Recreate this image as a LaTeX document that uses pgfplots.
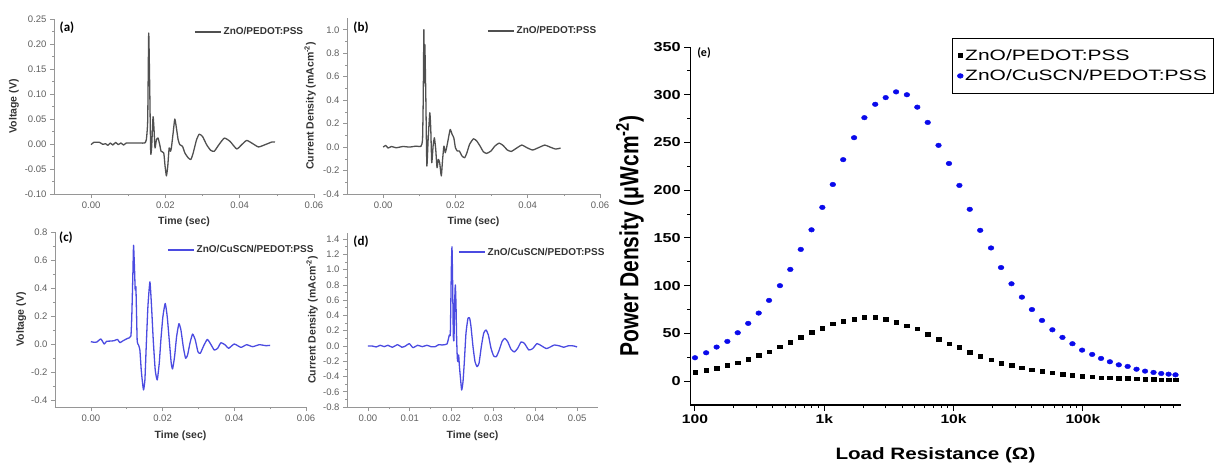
\documentclass[border=0pt]{standalone}
\usepackage{fontspec}
\setmainfont{Liberation Sans}
\newfontfamily\efont[FakeStretch=1.25]{Liberation Sans}
\newfontfamily\lfont[FakeStretch=1.4]{Liberation Sans}
\newfontfamily\tagfont{Carlito}
\usepackage{pgfplots}
\pgfplotsset{compat=1.18}

\definecolor{gline}{RGB}{80,80,80}
\definecolor{bline}{RGB}{75,75,225}
\definecolor{axgray}{RGB}{150,150,150}
\definecolor{tickgray}{RGB}{95,95,95}
\definecolor{ptblue}{RGB}{10,10,235}

\pgfplotsset{
  small/.style={
    scale only axis,
    anchor=south west,
    axis lines*=left,
    axis line style={axgray, line width=0.8pt},
    tick align=outside,
    major tick length=4pt,
    minor tick length=2pt,
    tick style={axgray, line width=0.6pt},
    minor x tick num=1,
    minor y tick num=1,
    scaled x ticks=false,
    scaled y ticks=false,
    tick label style={font=\fontsize{9.5}{10}\selectfont, text=tickgray},
    /pgf/number format/assume math mode=true,
    /pgf/number format/fixed,
    /pgf/number format/fixed zerofill,
    xticklabel style={/pgf/number format/precision=2},
    label style={font=\fontsize{10.5}{11}\selectfont\bfseries, text=black!80},
    xlabel={Time (sec)},
    legend style={draw=none, fill=none, inner sep=0pt, anchor=west,
      font=\fontsize{10}{11}\selectfont\bfseries, text=black!80},
    legend image code/.code={\draw[#1, line width=1.6pt] (0pt,0pt) -- (26pt,0pt);},
    clip=false,
  },
  trace/.style={line width=1.3pt, line join=round, smooth, tension=0.3},
}

\begin{document}
\begin{tikzpicture}
\useasboundingbox (0pt,0pt) rectangle (1215pt,-467pt);

% (a)
\begin{axis}[small,
  at={(54pt,-194pt)}, width=260pt, height=175pt,
  xmin=-0.01, xmax=0.06, ymin=-0.10, ymax=0.25,
  xtick={0,0.02,0.04,0.06},
  ytick={-0.1,-0.05,0,0.05,0.1,0.15,0.2,0.25},
  yticklabel style={/pgf/number format/precision=2},
  ylabel={Voltage (V)},
  xlabel style={at={(axis description cs:0.5,-0.16)}, anchor=center},
  ylabel style={at={(axis description cs:-0.154,0.5)}, anchor=center},
  legend style={at={(axis description cs:0.538,0.926)}},
]
\addplot[gline, trace] coordinates {
(0,-0.0013) (0.00072,0.0033) (0.00225,0.0033) (0.00315,-0.0007) (0.00387,0.0007)
(0.0045,-0.0026) (0.00514,0.002) (0.00586,-0.002) (0.00658,0.0033) (0.0073,-0.0013)
(0.008,0.002) (0.00874,-0.002) (0.00946,0.002) (0.0108,0.002) (0.01306,0.002)
(0.01441,0.002) (0.01486,0.0086) (0.01523,0.048) (0.0155,0.222) (0.01577,0.114)
(0.01604,-0.0178) (0.0163,-0.0046) (0.01667,0.0546) (0.01694,0.028) (0.0172,-0.008)
(0.01757,0.0086) (0.018,0.012) (0.01847,-0.0013) (0.01883,-0.0145) (0.01955,-0.0178)
(0.0199,-0.044) (0.02027,-0.0638) (0.02063,-0.044) (0.021,-0.008) (0.02135,-0.0145)
(0.0216,-0.008) (0.02207,0.0217) (0.02252,0.05) (0.02297,0.0316) (0.02342,0.0086)
(0.02387,-0.0013) (0.0246,-0.0046) (0.02523,-0.0178) (0.02613,-0.0276) (0.02685,-0.031)
(0.02748,-0.0178) (0.02838,0.0086) (0.0291,0.0197) (0.03,0.015) (0.03108,-0.0013)
(0.03216,-0.0125) (0.03315,-0.0145) (0.03441,-0.0013) (0.03586,0.0118) (0.03739,0.0053)
(0.03919,-0.0099) (0.04054,-0.0013) (0.04189,0.0072) (0.04351,0.0007) (0.04505,-0.0059)
(0.04685,-0.0013) (0.04865,0.004) (0.0495,0.004)
};
\addlegendentry{ZnO/PEDOT:PSS}
\end{axis}

% (b)
\begin{axis}[small,
  at={(347pt,-194pt)}, width=253pt, height=176pt,
  xmin=-0.01, xmax=0.06, ymin=-0.4, ymax=1.1,
  xtick={0,0.02,0.04,0.06},
  ytick={-0.4,-0.2,0,0.2,0.4,0.6,0.8,1.0},
  yticklabel style={/pgf/number format/precision=1},
  ylabel={Current Density (mAcm\textsuperscript{-2})},
  xlabel style={at={(axis description cs:0.5,-0.159)}, anchor=center},
  ylabel style={at={(axis description cs:-0.146,0.5)}, anchor=center},
  legend style={at={(axis description cs:0.553,0.926)}},
]
\addplot[gline, trace] coordinates {
(0,0) (0.00073,0.014) (0.00136,-0.0085) (0.0023,0.005) (0.0036,-0.006) (0.0055,0.005)
(0.0073,0) (0.0091,0.008) (0.01045,0.006) (0.0109,0.065) (0.01109,0.405) (0.01127,1.0)
(0.01136,0.547) (0.01154,0.873) (0.01182,0.405) (0.01209,-0.161) (0.01245,0.065)
(0.01291,0.292) (0.01318,0.15) (0.01345,-0.133) (0.01382,0.0085) (0.01418,0.079)
(0.01455,-0.02) (0.01491,-0.176) (0.01527,-0.105) (0.01564,-0.133) (0.01609,-0.246)
(0.01645,-0.105) (0.01682,0.0085) (0.01718,-0.048) (0.01755,-0.006) (0.018,0.065)
(0.01855,0.15) (0.01909,0.108) (0.01955,0.079) (0.02,-0.006) (0.02055,-0.034)
(0.02109,-0.034) (0.02182,-0.076) (0.02255,-0.091) (0.02318,-0.048) (0.02391,0.023)
(0.025,0.071) (0.02591,0.051) (0.02682,0.0085) (0.02773,-0.04) (0.02864,-0.054)
(0.02982,-0.034) (0.03091,0.0085) (0.03209,0.034) (0.03318,0.014) (0.03436,-0.025)
(0.03545,-0.037) (0.03682,-0.011) (0.03836,0.017) (0.03982,-0.006) (0.04136,-0.025)
(0.04291,-0.006) (0.04473,0.017) (0.04618,0) (0.04773,-0.017) (0.04909,-0.0085)
};
\addlegendentry{ZnO/PEDOT:PSS}
\end{axis}

% (c)
\begin{axis}[small,
  at={(55pt,-407pt)}, width=251pt, height=175pt,
  xmin=-0.01, xmax=0.06, ymin=-0.45, ymax=0.8,
  xtick={0,0.02,0.04,0.06},
  ytick={-0.4,-0.2,0,0.2,0.4,0.6,0.8},
  yticklabel style={/pgf/number format/precision=1},
  ylabel={Voltage (V)},
  xlabel style={at={(axis description cs:0.5,-0.163)}, anchor=center},
  ylabel style={at={(axis description cs:-0.135,0.5)}, anchor=center},
  legend style={at={(axis description cs:0.446,0.897)}},
]
\addplot[bline, trace] coordinates {
(0,0.017) (0.00093,0.012) (0.00167,0.014) (0.00279,0.036) (0.00372,0) (0.00437,0.019)
(0.00558,0.021) (0.00651,0.024) (0.00744,0.033) (0.00809,0.0095) (0.00902,0.024)
(0.01023,0.04) (0.01116,0.057) (0.01144,0.219) (0.01172,0.504) (0.01191,0.705)
(0.01219,0.527) (0.01237,0.385) (0.01256,0.409) (0.01274,0.219) (0.01293,0.017)
(0.0133,-0.007) (0.01367,-0.043) (0.01405,-0.185) (0.01442,-0.28) (0.0147,-0.328)
(0.01507,-0.257) (0.01544,-0.019) (0.01591,0.266) (0.01647,0.444) (0.01693,0.266)
(0.0174,0.029) (0.01795,-0.185) (0.01851,-0.257) (0.01907,-0.138) (0.01953,0.029)
(0.02009,0.195) (0.02074,0.29) (0.0213,0.195) (0.02186,0.029) (0.02242,-0.138)
(0.02279,-0.178) (0.02335,-0.09) (0.02391,0.052) (0.02456,0.145) (0.02512,0.1)
(0.02577,-0.019) (0.02642,-0.102) (0.02698,-0.078) (0.02763,0.005) (0.02837,0.071)
(0.02912,0.029) (0.02986,-0.055) (0.03051,-0.067) (0.03135,-0.019) (0.03247,0.033)
(0.0334,0) (0.03442,-0.043) (0.03535,-0.031) (0.03628,0.0095) (0.03749,-0.007)
(0.03842,-0.031) (0.04,0) (0.04186,-0.024) (0.04344,-0.005) (0.04512,-0.019)
(0.04698,-0.005) (0.04884,-0.012) (0.05,-0.0095)
};
\addlegendentry{ZnO/CuSCN/PEDOT:PSS}
\end{axis}

% (d)
\begin{axis}[small,
  at={(347pt,-407pt)}, width=251pt, height=174pt,
  xmin=-0.005, xmax=0.055, ymin=-0.8, ymax=1.48,
  xtick={0,0.01,0.02,0.03,0.04,0.05},
  ytick={-0.8,-0.6,-0.4,-0.2,0,0.2,0.4,0.6,0.8,1.0,1.2,1.4},
  yticklabel style={/pgf/number format/precision=1},
  ylabel={Current Density (mAcm\textsuperscript{-2})},
  xlabel style={at={(axis description cs:0.5,-0.163)}, anchor=center},
  ylabel style={at={(axis description cs:-0.139,0.5)}, anchor=center},
  legend style={at={(axis description cs:0.442,0.89)}},
]
\addplot[bline, trace] coordinates {
(0,0) (0.00096,0) (0.002,-0.013) (0.00295,0.009) (0.0039,-0.009) (0.00478,0.009)
(0.00582,-0.017) (0.0071,0.017) (0.00813,-0.017) (0.00901,0) (0.00989,0.031)
(0.01077,-0.022) (0.01188,0.009) (0.013,-0.009) (0.01411,0.009) (0.01507,-0.009)
(0.01611,-0.009) (0.01691,0.017) (0.0177,0.013) (0.0189,0.026) (0.01946,0.144)
(0.0197,0.166) (0.01994,1.0) (0.0201,1.30) (0.02026,0.8) (0.02041,0.144)
(0.02057,0.079) (0.02073,0.56) (0.02089,0.80) (0.02105,0.56) (0.02121,0.1)
(0.02137,-0.162) (0.02153,-0.206) (0.02169,-0.118) (0.02185,-0.25) (0.02209,-0.40)
(0.02241,-0.577) (0.02273,-0.468) (0.02305,-0.206) (0.02344,0.166) (0.02392,0.363)
(0.02432,0.363) (0.02464,0.254) (0.02512,-0.009) (0.0256,-0.206) (0.02608,-0.271)
(0.02656,-0.227) (0.02711,-0.009) (0.02767,0.166) (0.02823,0.21) (0.02879,0.144)
(0.02943,-0.031) (0.03006,-0.131) (0.0307,-0.14) (0.03134,-0.061) (0.03206,0.057)
(0.0327,0.1) (0.03341,0.057) (0.03421,-0.044) (0.035,-0.079) (0.0358,-0.031)
(0.0366,0.052) (0.0374,0.035) (0.03844,-0.052) (0.03939,-0.035) (0.04043,0.031)
(0.04155,0) (0.04266,-0.035) (0.04362,-0.013) (0.04458,0.013) (0.04585,0)
(0.04681,-0.017) (0.04801,0.004) (0.0492,0) (0.05,-0.013)
};
\addlegendentry{ZnO/CuSCN/PEDOT:PSS}
\end{axis}

% (e)
\begin{axis}[
  scale only axis, anchor=south west,
  at={(690.3pt,-405pt)}, width=490.3pt, height=358pt,
  xmode=log, xmin=92, xmax=5.7e5, ymin=-25, ymax=350,
  axis lines*=left,
  axis line style={black, line width=1.2pt},
  tick align=outside,
  major tick length=6pt, minor tick length=3pt,
  tick style={black, line width=1pt},
  xtick={100,1000,10000,100000},
  xticklabels={100,1k,10k,100k},
  minor xtick={200,300,400,500,600,700,800,900,2000,3000,4000,5000,6000,7000,8000,9000,
    20000,30000,40000,50000,60000,70000,80000,90000,200000,300000,400000,500000},
  ytick={0,50,100,150,200,250,300,350},
  minor y tick num=1,
  /pgf/number format/assume math mode=true,
  xticklabel style={font=\efont\fontsize{12.5}{13}\selectfont\bfseries},
  yticklabel style={font=\efont\fontsize{13}{14}\selectfont\bfseries},
  xlabel={Load Resistance (Ω)},
  ylabel={\scalebox{1}[1.25]{Power Density (μWcm\textsuperscript{-2})}},
  xlabel style={font=\efont\fontsize{16.5}{17}\selectfont\bfseries,
    at={(axis description cs:0.5,-0.14)}, anchor=center},
  ylabel style={font=\fontsize{21}{22}\selectfont\bfseries,
    at={(axis description cs:-0.123,0.472)}, anchor=center},
  legend style={at={(axis description cs:0.534,1.025)}, anchor=north west,
    draw=black, line width=0.6pt, fill=white,
    font=\lfont\fontsize{15}{16}\selectfont,
    inner xsep=5pt, inner ysep=10pt, row sep=6pt,
    nodes={inner ysep=1pt}},
  legend cell align=left,
  legend image code/.code={\draw[mark repeat=2,mark phase=2,#1]
    plot coordinates {(0pt,0pt)(11pt,0pt)(22pt,0pt)};},
  clip=false,
]
\addplot[only marks, mark=square*, mark size=1.8pt, mark options={xscale=1.25}, black] coordinates {
(100,9.1) (122,11.2) (147,13.6) (178,16.4) (214,19.2) (258,22.7) (311,26.9)
(374,30.8) (454,36) (546,40.9) (658,45.8) (797,51) (966,55.2) (1164,60.1)
(1400,62.6) (1700,65) (2043,66.8) (2477,67.1) (2985,64.7) (3592,61.9) (4355,58)
(5240,54.9) (6310,49.3) (7650,43.7) (9210,39.2) (11090,35.7) (13340,30.1)
(16060,26.2) (19490,22.4) (23290,18.9) (28050,16.4) (33760,14) (40370,11.9)
(48290,10.5) (58090,8.7) (69500,7.3) (83040,6.3) (98620,5.2) (118000,4.5)
(138200,3.8) (161800,3.5) (189600,3.1) (222000,2.8) (260000,2.4) (302600,2.1)
(351900,2.1) (403600,1.7) (460200,1.7) (520400,1.4)
};
\addlegendentry{ZnO/PEDOT:PSS}
\addplot[only marks, mark=*, mark size=2.3pt, mark options={xscale=1.25}, ptblue] coordinates {
(100,24.5) (122,29.7) (147,35.7) (178,41.6) (214,50.7) (258,60.5) (311,71.3)
(374,84.6) (454,100) (546,117) (658,138) (797,158.5) (966,182) (1164,206)
(1400,232) (1700,255) (2043,276) (2477,290) (2985,297) (3592,303) (4355,300)
(5240,287) (6310,271) (7650,247) (9210,228) (11090,205) (13340,180)
(16060,158) (19490,139.5) (23290,119) (28050,102) (33760,88) (40370,75)
(48290,63.6) (58090,53.8) (69500,45.8) (83040,39.2) (98620,32.5) (118000,28)
(138200,23.8) (161800,20.3) (189600,17.1) (222000,15.4) (260000,12.5)
(302600,10.5) (351900,9.1) (403600,8) (460200,7.3) (520400,6.6)
};
\addlegendentry{ZnO/CuSCN/PEDOT:PSS}
\end{axis}

\node[font=\tagfont\bfseries\fontsize{13}{13}\selectfont] at (67pt,-28pt) {(a)};
\node[font=\tagfont\bfseries\fontsize{13}{13}\selectfont] at (361pt,-28pt) {(b)};
\node[font=\tagfont\bfseries\fontsize{13}{13}\selectfont] at (66pt,-238pt) {(c)};
\node[font=\tagfont\bfseries\fontsize{13}{13}\selectfont] at (361pt,-242pt) {(d)};
\node[font=\tagfont\bfseries\fontsize{12}{12}\selectfont] at (704pt,-53pt) {(e)};
\end{tikzpicture}
\end{document}
